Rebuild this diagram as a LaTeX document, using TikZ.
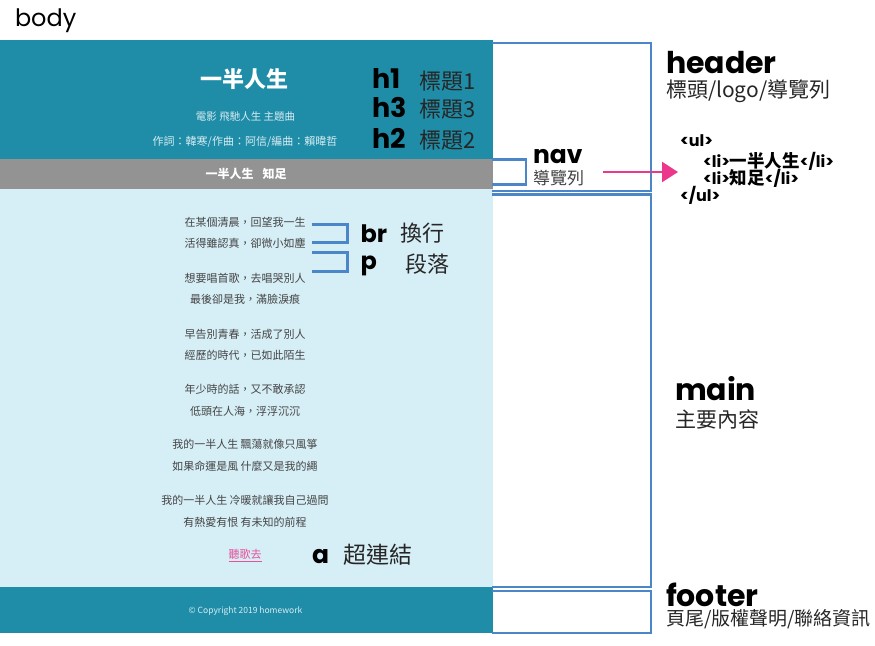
\documentclass[tikz,border=0pt]{standalone}
\usepackage{fontspec}
\setmainfont{Poppins}
\newfontfamily\pop{Poppins}
\newfontfamily\cjk{Noto Sans CJK TC}
\usetikzlibrary{arrows.meta}
\definecolor{tealc}{RGB}{31,141,167}
\definecolor{navgray}{RGB}{147,147,147}
\definecolor{mainblue}{RGB}{214,238,246}
\definecolor{boxblue}{RGB}{74,134,200}
\definecolor{pinkc}{RGB}{236,56,140}
\definecolor{linkpink}{RGB}{232,80,154}
\definecolor{lyricgray}{RGB}{68,68,68}
\definecolor{subwhite}{RGB}{215,236,242}
\newcommand\fsz[1]{\fontsize{#1}{#1}\selectfont}
\begin{document}
\begin{tikzpicture}[x=1pt,y=-1pt,
  every node/.style={inner sep=0pt,outer sep=0pt},
  biglbl/.style={font=\pop\bfseries\fsz{30},text=black,anchor=base west,text depth=0pt},
  tag/.style={font=\pop\bfseries\fsz{26},text=black,anchor=base west,text depth=0pt},
  cjklbl/.style={font=\cjk\fsz{21},text=black!85,anchor=west},
  lyric/.style={font=\cjk\fsz{11},text=lyricgray},
  code/.style={font=\pop\bfseries\fsz{16},text=black,anchor=west,text height=11pt,text depth=2pt},
  boxline/.style={draw=boxblue,line width=2.8pt},
  brk/.style={draw=boxblue,line width=3pt}]
\useasboundingbox (0,0) rectangle (875,645);
% body label
\node[font=\pop\fsz{24},anchor=base west] (body) at (15,26.7) {body};
% page blocks
\fill[tealc] (0,39.5) rectangle (492.5,158.5);
\fill[navgray] (0,158.5) rectangle (492.5,188.5);
\fill[mainblue] (0,188.5) rectangle (492.5,587);
\fill[tealc] (0,587) rectangle (492.5,633);
% outline boxes
\draw[boxline] (492,43) -- (651,43) -- (651,191) -- (492,191);
\draw[boxline] (492,159.5) -- (526,159.5) -- (526,184.5) -- (492,184.5);
\draw[boxline] (492,194.5) -- (651,194.5) -- (651,587) -- (492,587);
\draw[boxline] (492,591) -- (651,591) -- (651,633) -- (492,633);
% header content
\node[font=\cjk\bfseries\fsz{22},text=white] (title) at (244,79) {一半人生};
\node[font=\cjk\fsz{10.5},text=subwhite] (sub) at (245.5,116.7) {電影 飛馳人生 主題曲};
\node[font=\cjk\fsz{11},text=subwhite] (credit) at (245,141.7) {作詞：韓寒/作曲：阿信/編曲：賴暐哲};
\node[font=\cjk\bfseries\fsz{12},text=white] (navtxt) at (246,174) {一半人生\hspace{9pt}知足};
\node[tag,font=\pop\bfseries\fsz{27}] (h1) at (372,88.3) {h1};
\node[tag,font=\pop\bfseries\fsz{27}] (h3) at (372,117.3) {h3};
\node[tag,font=\pop\bfseries\fsz{27}] (h2) at (372,148.3) {h2};
\node[cjklbl,font=\cjk\fsz{22}] (t1) at (419,81.2) {標題1};
\node[cjklbl,font=\cjk\fsz{22}] (t3) at (419,109.5) {標題3};
\node[cjklbl,font=\cjk\fsz{22}] (t2) at (419,140) {標題2};
% lyrics
\node[lyric] (l1) at (245,222) {在某個清晨，回望我一生};
\node[lyric] (l2) at (245,243.3) {活得雖認真，卻微小如塵};
\node[lyric] (l3) at (245,278.3) {想要唱首歌，去唱哭別人};
\node[lyric] (l4) at (245,299.3) {最後卻是我，滿臉淚痕};
\node[lyric] (l5) at (245,334.3) {早告別青春，活成了別人};
\node[lyric] (l6) at (245,355.3) {經歷的時代，已如此陌生};
\node[lyric] (l7) at (245,389) {年少時的話，又不敢承認};
\node[lyric] (l8) at (245,411) {低頭在人海，浮浮沉沉};
\node[lyric] (l9) at (245,444.3) {我的一半人生 飄蕩就像只風箏};
\node[lyric] (l10) at (245,466.7) {如果命運是風 什麼又是我的繩};
\node[lyric] (l11) at (245,500) {我的一半人生 冷暖就讓我自己過問};
\node[lyric] (l12) at (245,522.3) {有熱愛有恨 有未知的前程};
\node[lyric,text=linkpink] (link) at (245,555.7) {\underline{聽歌去}};
% brackets
\draw[brk] (311.5,224) -- (347.5,224) -- (347.5,242.7) -- (311.5,242.7);
\draw[brk] (311.5,252.7) -- (347.5,252.7) -- (347.5,271) -- (311.5,271);
\node[tag,font=\pop\bfseries\fsz{24}] (br) at (360.5,242.7) {br};
\node[tag,font=\pop\bfseries\fsz{24}] (p) at (360.5,269.5) {p};
\node[cjklbl,font=\cjk\fsz{22}] (brt) at (400.5,233) {換行};
\node[cjklbl,font=\cjk\fsz{22}] (pt) at (405,264) {段落};
\node[tag,font=\pop\bfseries\fsz{25}] (a) at (312,563) {a};
\node[cjklbl,font=\cjk\fsz{23}] (at) at (343,555) {超連結};
% footer content
\node[font=\cjk\fsz{8.5},text=subwhite] (copy) at (245.5,611) {© Copyright 2019 homework};
% right-side labels
\node[biglbl] (header) at (666,73) {header};
\node[cjklbl] (headert) at (666,91) {標頭/logo/導覽列};
\node[biglbl,font=\pop\bfseries\fsz{25}] (nav) at (533,163.3) {nav};
\node[cjklbl,font=\cjk\fsz{17},text=black!75] (navt) at (533,178) {導覽列};
\node[biglbl] (main) at (675,400.7) {main};
\node[cjklbl] (maint) at (675,419) {主要內容};
\node[biglbl] (footer) at (666,606.7) {footer};
\node[cjklbl,font=\cjk\fsz{19}] (footert) at (666,619) {頁尾/版權聲明/聯絡資訊};
% ul code
\node[code] (ul1) at (680,142) {<ul>};
\node[code] (li1) at (703,163) {<li>{\cjk\bfseries\fsz{17.5}一半人生}</li>};
\node[code] (li2) at (703,180) {<li>{\cjk\bfseries\fsz{17.5}知足}</li>};
\node[code] (ul2) at (680,197) {</ul>};
% arrow
\coordinate (arrS) at (603,172);
\coordinate (arrE) at (678,172);
\draw[pinkc,line width=2.5pt,-{Triangle[length=16pt,width=20pt]}] (arrS) -- (arrE);
\end{tikzpicture}
\end{document}
